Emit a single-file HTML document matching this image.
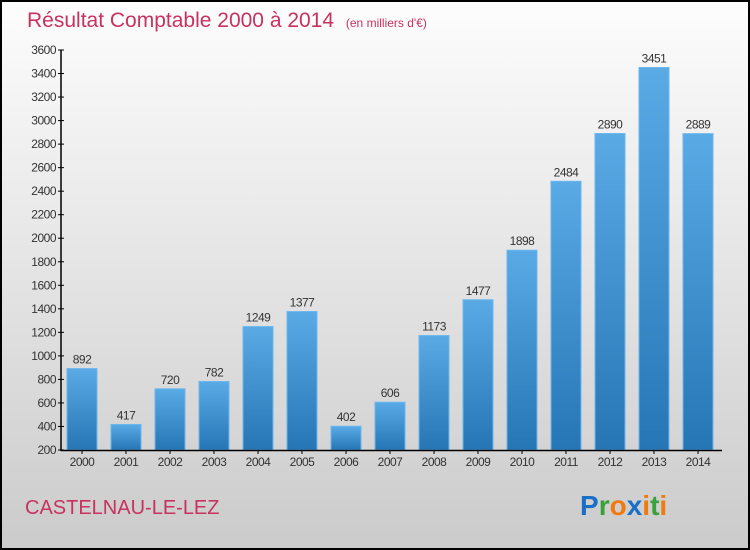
<!DOCTYPE html>
<html><head><meta charset="utf-8"><style>
body{margin:0;width:750px;height:550px;overflow:hidden}
svg{display:block}
text{font-family:"Liberation Sans",sans-serif}
</style></head><body>
<svg width="750" height="550">
<defs>
<linearGradient id="bg" x1="0" y1="0" x2="0" y2="1"><stop offset="0" stop-color="#fdfdfd"/><stop offset="1" stop-color="#cbcbcb"/></linearGradient>
<linearGradient id="bar" x1="0" y1="0" x2="0" y2="1"><stop offset="0" stop-color="#5aaae6"/><stop offset="1" stop-color="#2676b6"/></linearGradient>
</defs>
<rect x="1" y="1" width="748" height="548" fill="url(#bg)" stroke="#000" stroke-width="2"/>
<text x="27" y="27" font-size="21" fill="#c8325f">Résultat Comptable 2000 à 2014 <tspan font-size="12" dx="6">(en milliers d'€)</tspan></text>
<g id="yaxis"></g>
<g id="bars"></g>
<g id="xaxis"></g>
<text x="25" y="514" font-size="20" fill="#c8325f">CASTELNAU-LE-LEZ</text>
<g font-size="28" font-weight="bold">
<text x="580" y="515"><tspan fill="#1a6fc8">P</tspan><tspan fill="#3aa03a">r</tspan><tspan fill="#f07a10">o</tspan><tspan fill="#1a6fc8">x</tspan><tspan fill="#f07a10">i</tspan><tspan fill="#3aa03a">t</tspan><tspan fill="#f07a10">i</tspan></text>
</g>
</svg>
<script>
const categories=["2000","2001","2002","2003","2004","2005","2006","2007","2008","2009","2010","2011","2012","2013","2014"];
const values=[892,417,720,782,1249,1377,402,606,1173,1477,1898,2484,2890,3451,2889];
const yTicks=[200,400,600,800,1000,1200,1400,1600,1800,2000,2200,2400,2600,2800,3000,3200,3400,3600];
const NS="http://www.w3.org/2000/svg";
const y=v=>450-(v-200)*400/3400;
const x=i=>82+i*44;
function mk(t,a,p){const e=document.createElementNS(NS,t);for(const k in a)e.setAttribute(k,a[k]);p.appendChild(e);return e;}
const ya=document.getElementById('yaxis'),ba=document.getElementById('bars'),xa=document.getElementById('xaxis');
mk('line',{x1:61,y1:50,x2:61,y2:451,stroke:'#000','stroke-width':1.5},ya);
yTicks.forEach(t=>{
 mk('line',{x1:58,y1:y(t),x2:64,y2:y(t),stroke:'#000'},ya);
 const tx=mk('text',{x:56,y:y(t)+4,'font-size':12,'text-anchor':'end',fill:'#333','letter-spacing':'-0.5'},ya);
 tx.textContent=t;
 
 
});
categories.forEach((c,i)=>{
 const r=mk('rect',{x:x(i)-15,y:y(values[i]),width:30,height:450-y(values[i]),fill:'url(#bar)',stroke:'#6bb6ee','stroke-width':1},ba);
 
 
 const v=mk('text',{x:x(i),y:y(values[i])-5,'font-size':12,'text-anchor':'middle',fill:'#333','letter-spacing':'-0.5'},ba);
 v.textContent=values[i];
 
 
 mk('line',{x1:x(i),y1:450,x2:x(i),y2:454,stroke:'#000'},xa);
 const l=mk('text',{x:x(i),y:466,'font-size':12,'text-anchor':'middle',fill:'#333','letter-spacing':'-0.5'},xa);
 l.textContent=c;
 
 
});
mk('line',{x1:61,y1:450.5,x2:722,y2:450.5,stroke:'#000','stroke-width':1.5},xa);
</script>
</body></html>
